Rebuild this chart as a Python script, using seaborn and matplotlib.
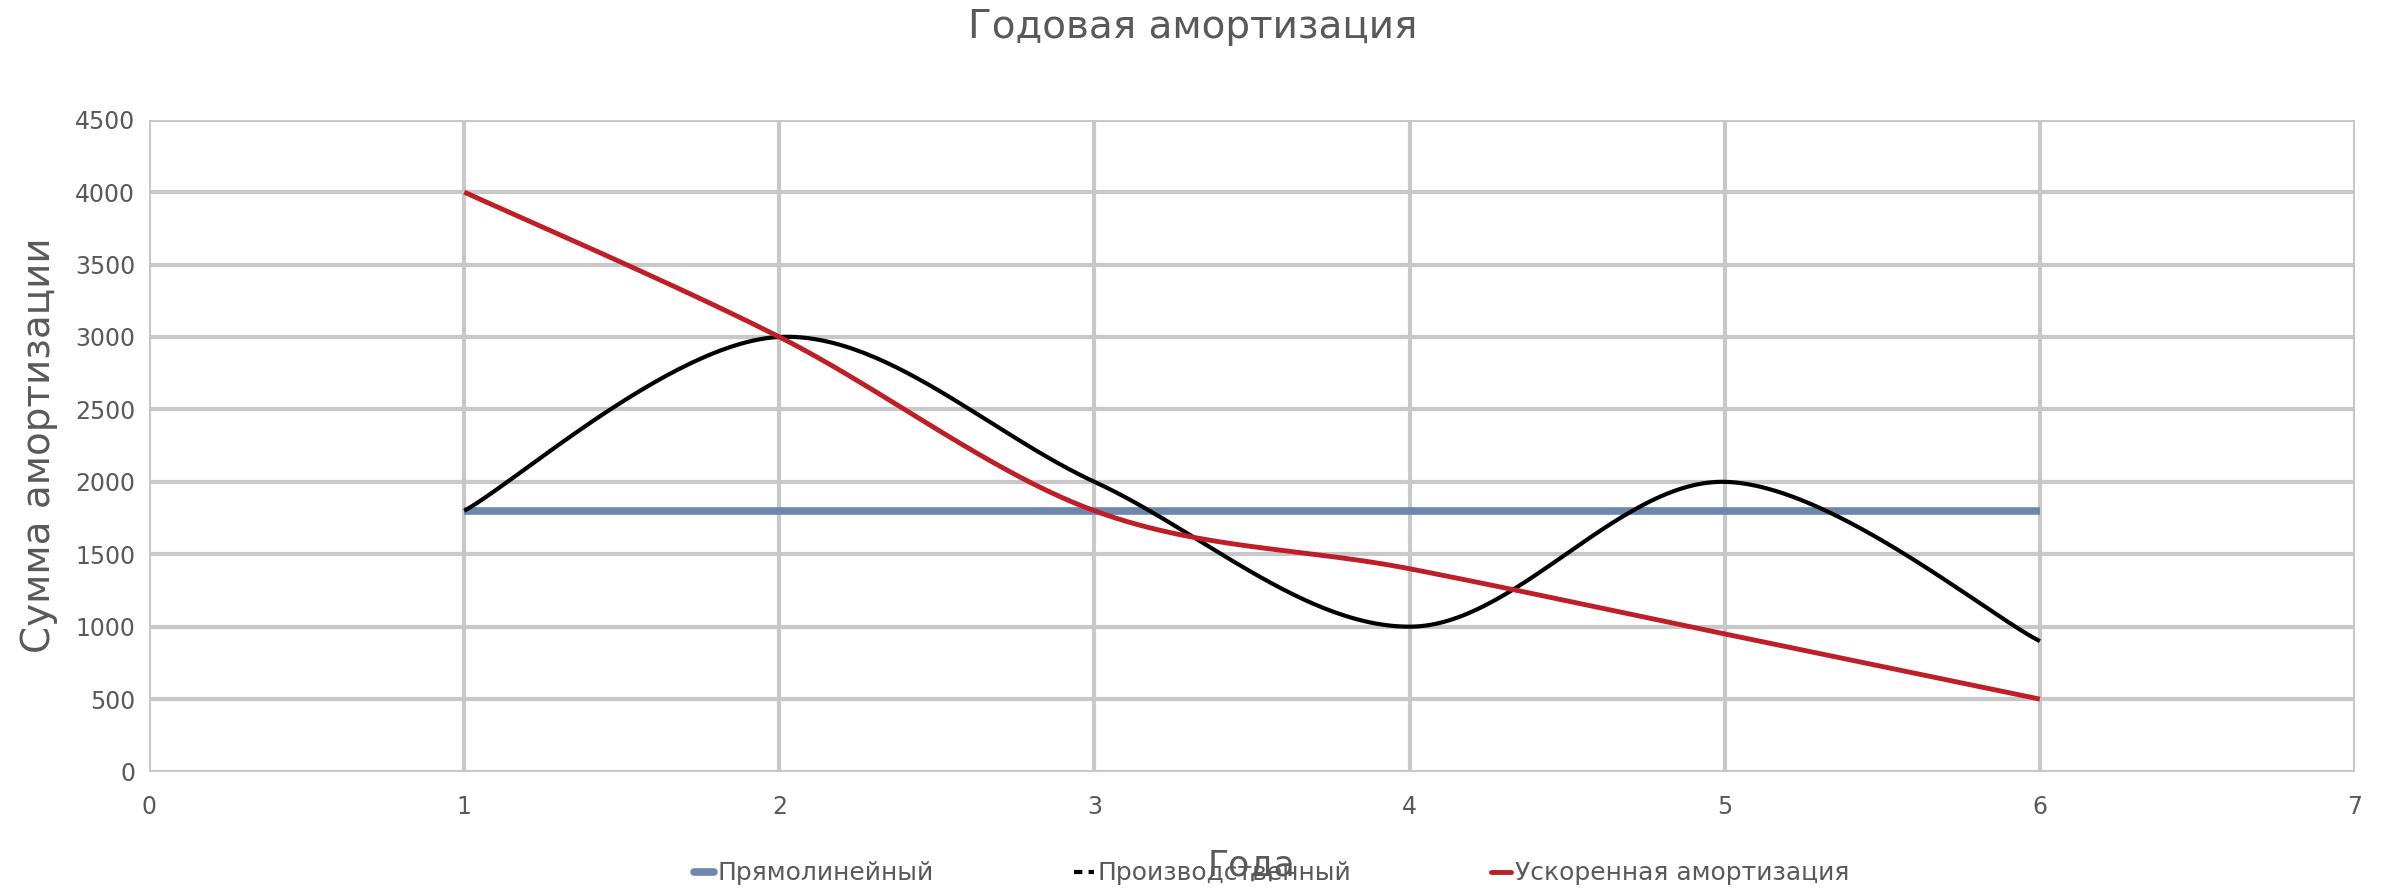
import numpy as np
import pandas as pd
import matplotlib
matplotlib.use("Agg")
import matplotlib.pyplot as plt
from matplotlib.lines import Line2D
import seaborn as sns

# Data
years = [1, 2, 3, 4, 5, 6]
straight_line = [1800, 1800, 1800, 1800, 1800, 1800]
production = [1800, 3000, 2000, 1000, 2000, 900]
accelerated = [4000, 3000, 1800, 1400, 950, 500]
series_names = ["Прямолинейный", "Производственный", "Ускоренная амортизация"]

title = "Годовая амортизация"
x_label = "Года"
y_label = "Сумма амортизации"

colors = ["#6d88ae", "#000000", "#c01e26"]
text_color = "#595959"
grid_color = "#c8c8c8"


def smooth(x, y, n=60):
    # Excel-style smoothed line (Catmull-Rom bezier through the points)
    x = np.asarray(x, float)
    y = np.asarray(y, float)
    px = np.concatenate([[x[0]], x, [x[-1]]])
    py = np.concatenate([[y[0]], y, [y[-1]]])
    xs, ys = [], []
    t = np.linspace(0, 1, n)
    for i in range(1, len(px) - 2):
        p0 = np.array([px[i], py[i]])
        p3 = np.array([px[i + 1], py[i + 1]])
        p1 = p0 + (np.array([px[i + 1], py[i + 1]]) - np.array([px[i - 1], py[i - 1]])) / 6
        p2 = p3 - (np.array([px[i + 2], py[i + 2]]) - np.array([px[i], py[i]])) / 6
        b = ((1 - t) ** 3)[:, None] * p0 + (3 * (1 - t) ** 2 * t)[:, None] * p1 \
            + (3 * (1 - t) * t ** 2)[:, None] * p2 + (t ** 3)[:, None] * p3
        xs.extend(b[:, 0])
        ys.extend(b[:, 1])
    return np.array(xs), np.array(ys)


sns.set_theme(style="whitegrid")
plt.rcParams["font.family"] = ["DejaVu Sans"]

fig = plt.figure(figsize=(23.86, 8.93), dpi=100)
ax = fig.add_axes([0.0625, 0.136, 0.9245, 0.73])

widths = [5.5, 3, 3.5]
for vals, name, c, lw in zip([straight_line, production, accelerated], series_names, colors, widths):
    sx, sy = smooth(years, vals)
    df = pd.DataFrame({"x": sx, "y": sy})
    sns.lineplot(data=df, x="x", y="y", color=c, linewidth=lw, sort=False,
                 estimator=None, ax=ax, solid_capstyle="butt")

ax.set_xlim(0, 7)
ax.set_ylim(0, 4500)
ax.set_xticks(range(0, 8))
ax.set_yticks(range(0, 4501, 500))
ax.grid(True, color=grid_color, linewidth=3)
for s in ax.spines.values():
    s.set_visible(False)
ax.tick_params(axis="both", length=0, labelsize=17, colors=text_color)
ax.tick_params(axis="x", pad=17)
ax.tick_params(axis="y", pad=10)

ax.set_xlabel("")
ax.set_ylabel(y_label, fontsize=28, color=text_color, labelpad=12)
fig.text(0.5245, 0.031, x_label, fontsize=25, color=text_color, ha="center", va="center")
fig.suptitle(title, fontsize=28, color=text_color, y=0.97, va="center")

handles = [
    Line2D([0], [0], color=colors[0], linewidth=5.5),
    Line2D([0], [0], color=colors[1], linewidth=3, linestyle=(0, (2, 1.5))),
    Line2D([0], [0], color=colors[2], linewidth=3.5),
]
fig.legend(handles, series_names, loc="center", bbox_to_anchor=(0.533, 0.022), ncol=3,
           frameon=False, fontsize=18, handlelength=0.8, handletextpad=0.15,
           columnspacing=5.6, labelcolor=text_color)

fig.savefig("out.png", dpi=100)
